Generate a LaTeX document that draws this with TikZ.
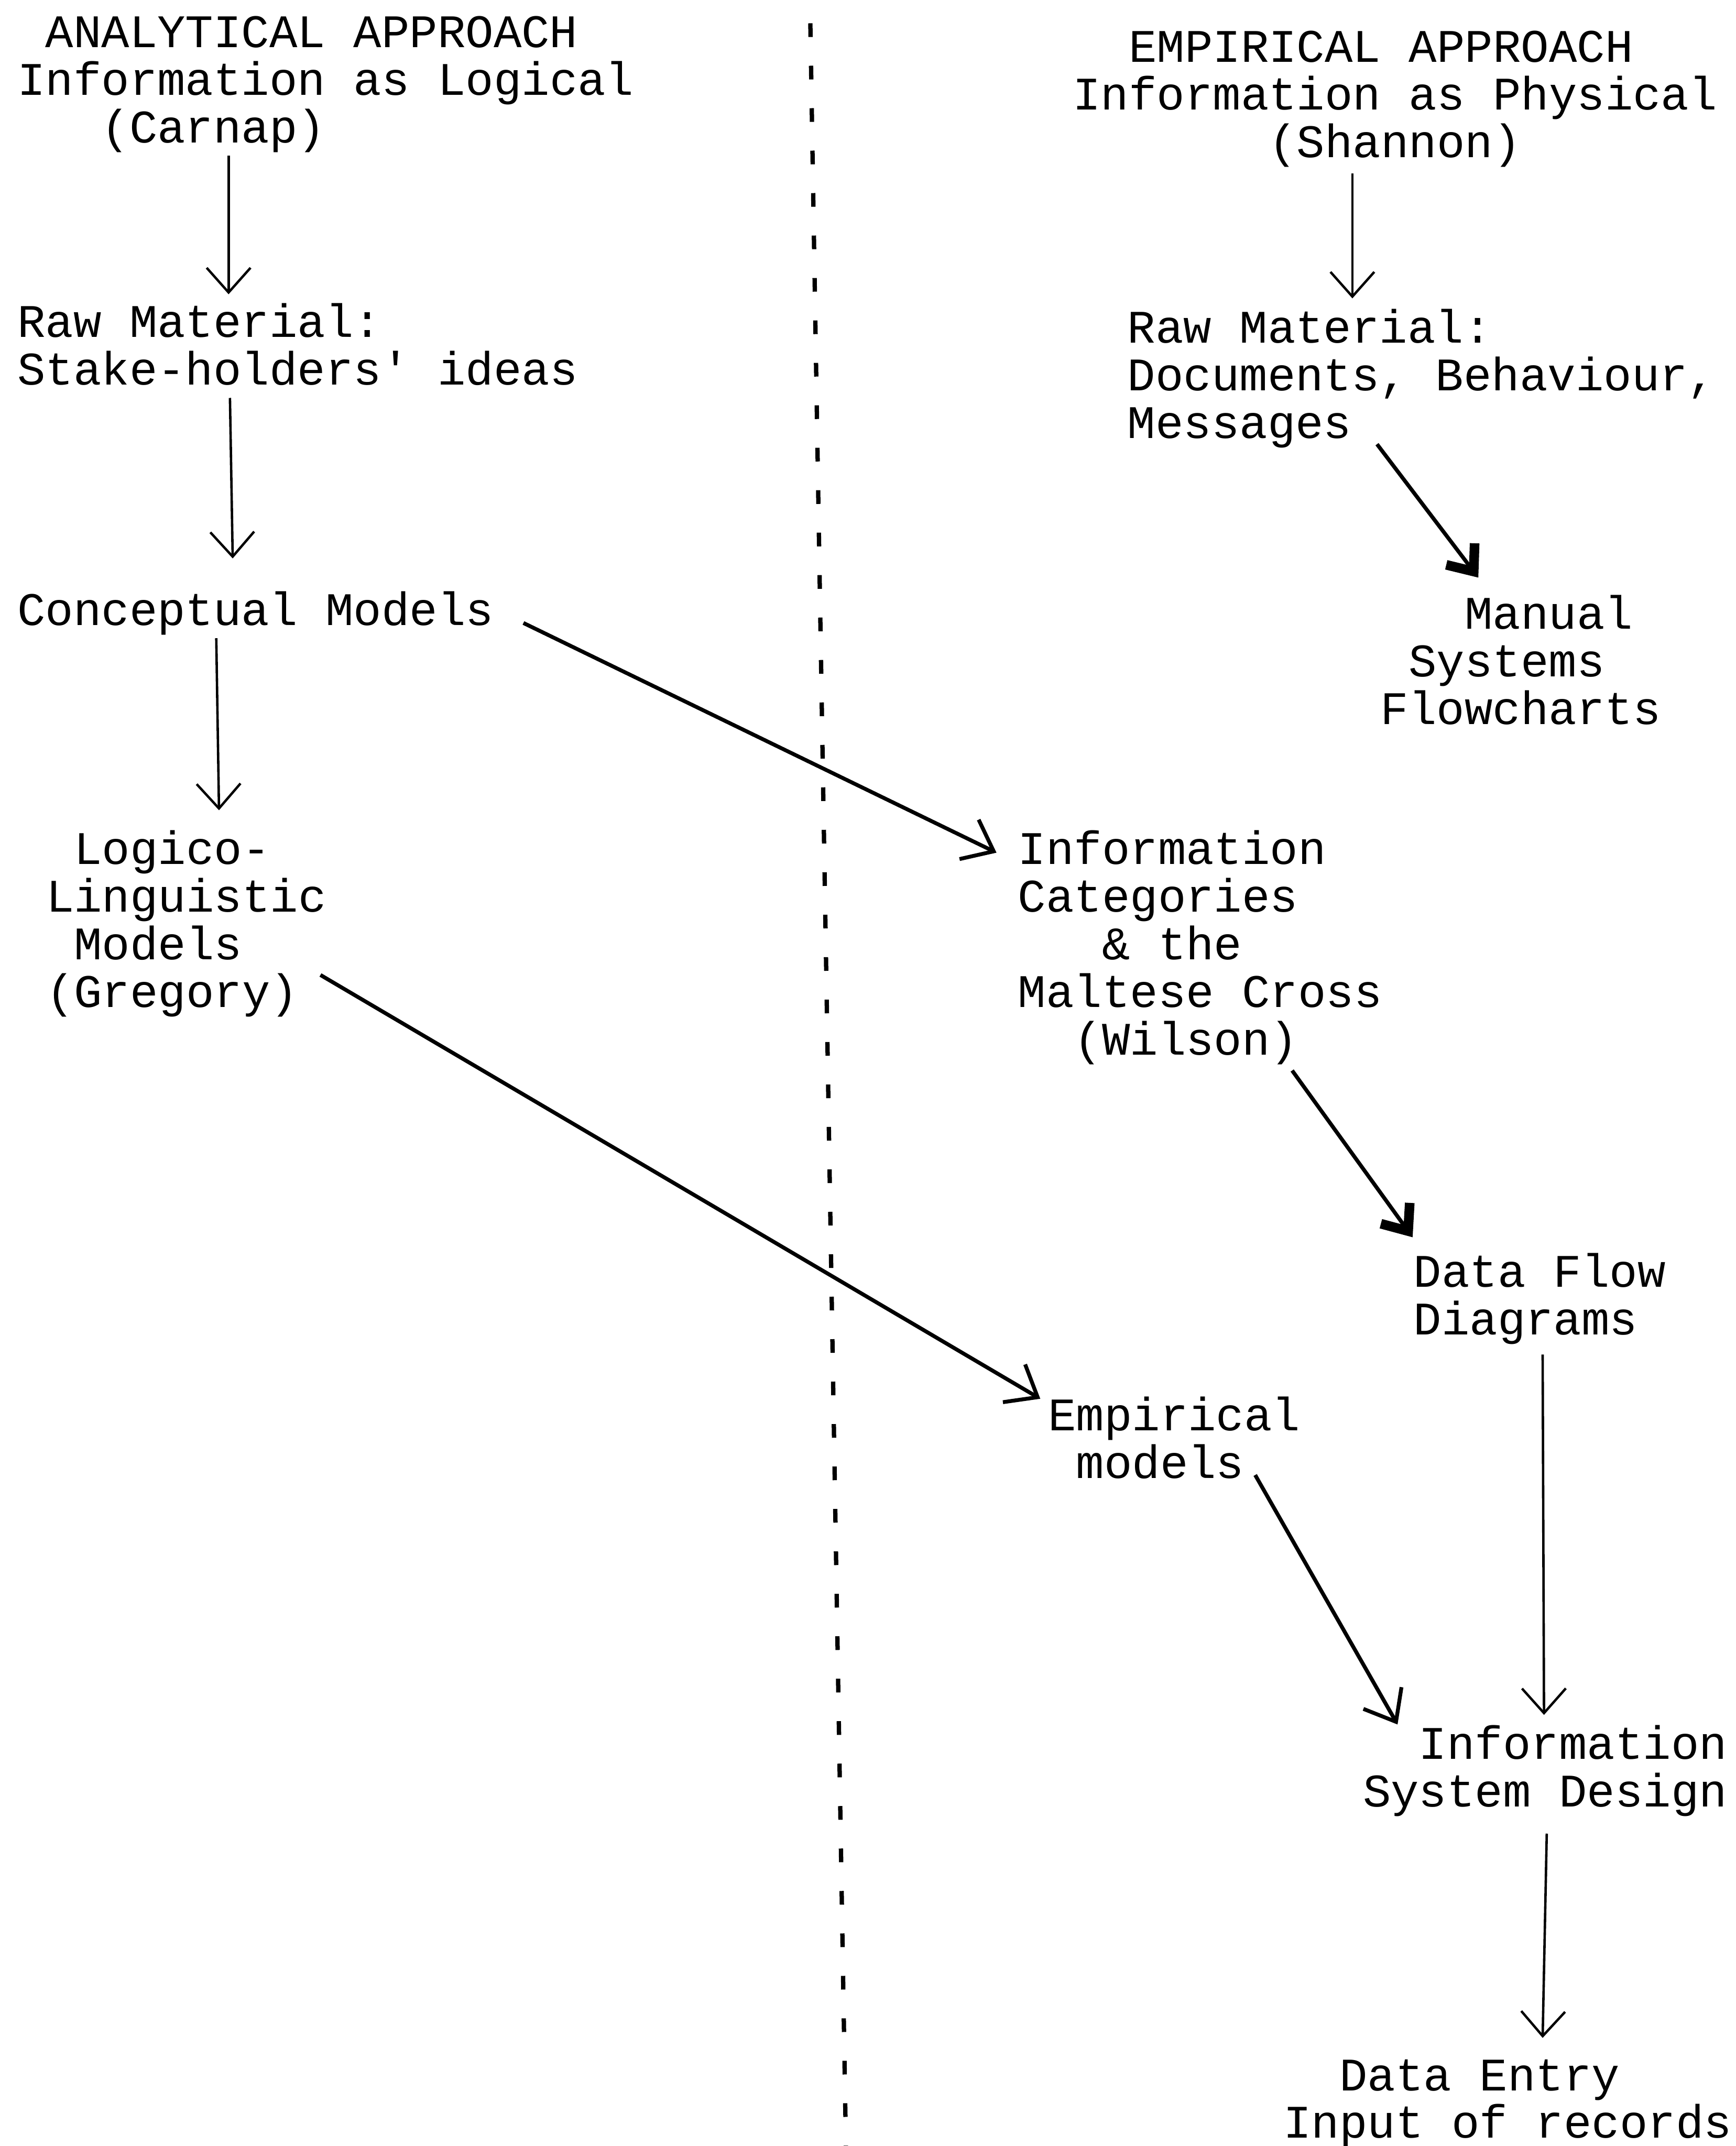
\documentclass[tikz,border=0pt]{standalone}
\usepackage{fontspec}
\setmonofont{Liberation Mono}
\usetikzlibrary{arrows.meta}

% leading blanks, counted in typewriter cells
\newcommand{\pad}[1]{\hspace*{#1\dimexpr0.6em\relax}}

\begin{document}
\begin{tikzpicture}[x=0.01cm, y=-0.01cm,
	typed/.style={inner sep=0pt, anchor=north west, align=left,
		font=\ttfamily\fontsize{9.7}{9.9}\selectfont,
		execute at begin node={\rule{0pt}{8pt}},
		execute at end node={\rule[-2.5pt]{0pt}{2.5pt}}},
	flow/.style={line width=0.5pt, -{Straight Barb[length=1.8mm, width=3.2mm]}},
	slant/.style={line width=0.8pt, -{Straight Barb[length=2mm, width=3.2mm]}},
	inked/.style={line width=0.8pt, -{Straight Barb[length=1.6mm, width=2.6mm, line width=2pt]}}]
		\useasboundingbox (0,0) rectangle (1268,1568);

		% analytical side
		\node[typed] (anaHead)   at (12,11)  {\pad{1}ANALYTICAL APPROACH\\Information as Logical\\\pad{3}(Carnap)};
		\node[typed] (anaRaw)    at (12,221) {Raw Material:\\Stake-holders' ideas};
		\node[typed] (anaConc)   at (12,428) {Conceptual Models};
		\node[typed] (anaLogico) at (33,606) {\pad{1}Logico-\\Linguistic\\\pad{1}Models\\(Gregory)};

		% empirical side
		\node[typed] (empHead)   at (783,22)    {\pad{2}EMPIRICAL APPROACH\\Information as Physical\\\pad{7}(Shannon)};
		\node[typed] (empRaw)    at (823,225)   {Raw Material:\\Documents, Behaviour,\\Messages};
		\node[typed] (empManual) at (1008,434)  {\pad{3}Manual\\\pad{1}Systems\\Flowcharts};
		\node[typed] (empCat)    at (743,606)   {Information\\Categories\\\pad{3}\& the\\Maltese Cross\\\pad{2}(Wilson)};
		\node[typed] (empDFD)    at (1032,915)  {Data Flow\\Diagrams};
		\node[typed] (empModels) at (765,1020)  {Empirical\\\pad{1}models};
		\node[typed] (empISD)    at (995,1260)  {\pad{2}Information\\System Design};
		\node[typed] (empEntry)  at (937,1504)  {\pad{2}Data Entry\\Input of records};

		% typed divider between the two approaches
		\draw[line width=0.9pt, dash pattern=on 0.1cm off 0.21cm] (592,17) -- (618,1568);

		% left column
		\draw[flow] ([shift={(155,0)}]anaHead.south west) -- ([shift={(155,-6)}]anaRaw.north west);
		\draw[flow] ([shift={(156,0)}]anaRaw.south west) -- ([shift={(158,-20)}]anaConc.north west);
		\draw[flow] ([shift={(146,0)}]anaConc.south west) -- ([shift={(127,-14)}]anaLogico.north west);

		% crossing over
		\draw[slant] ([shift={(21,8)}]anaConc.east) -- ([shift={(-15,17)}]empCat.north west);
		\draw[slant] ([shift={(-5,-33)}]anaLogico.south east) -- ([shift={(-5,2)}]empModels.north west);

		% right column
		\draw[flow] ([shift={(205,2)}]empHead.south west) -- ([shift={(165,-7)}]empRaw.north west);
		\draw[inked] ([shift={(183,-5)}]empRaw.south west) -- ([shift={(72,-12)}]empManual.north west);
		\draw[inked] ([shift={(201,2)}]empCat.south west) -- ([shift={(0,-11)}]empDFD.north west);
		\draw[slant] ([shift={(152,-12)}]empModels.south west) -- ([shift={(26,0)}]empISD.north west);
		\draw[flow] ([shift={(95,5)}]empDFD.south west) -- ([shift={(133,-7)}]empISD.north west);
		\draw[flow] ([shift={(135,10)}]empISD.south west) -- ([shift={(190,-15)}]empEntry.north west);
	\end{tikzpicture}
\end{document}
